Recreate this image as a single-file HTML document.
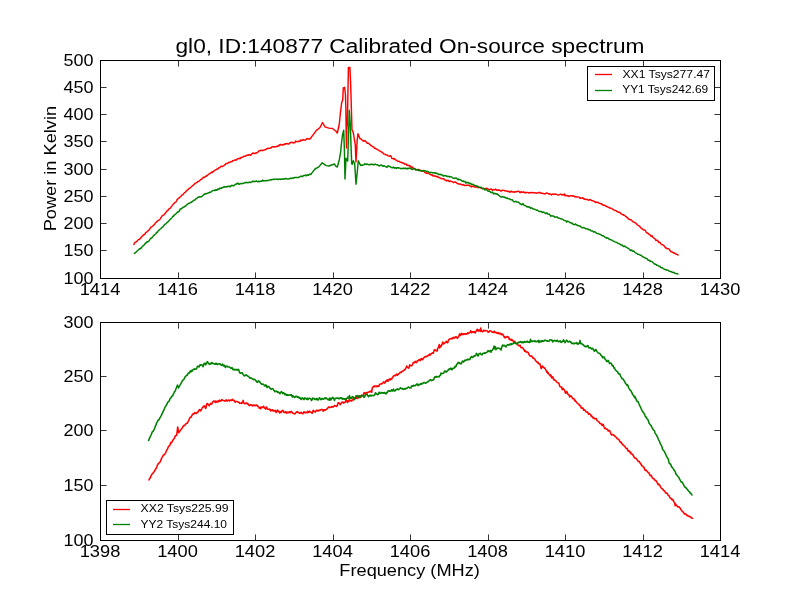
<!DOCTYPE html>
<html><head><meta charset="utf-8"><title>spectrum</title>
<style>html,body{margin:0;padding:0;background:#fff;width:800px;height:600px;overflow:hidden}svg{display:block;will-change:transform}</style>
</head><body><svg width="800" height="600" viewBox="0 0 800 600"><rect x="0" y="0" width="800" height="600" fill="#fff"/><clipPath id="c1"><rect x="100" y="60" width="620" height="218.18"/></clipPath><clipPath id="c2"><rect x="100" y="321.82" width="620" height="218.18"/></clipPath><g clip-path="url(#c1)" fill="none" stroke-width="1.45" stroke-linejoin="round" stroke-linecap="butt"><polyline stroke="#ff0000" points="133.5,245.0 134.0,244.3 134.5,243.1 135.0,242.5 135.5,242.2 136.0,242.0 136.5,241.6 137.0,241.3 137.5,240.5 138.0,240.0 138.5,239.7 139.0,239.5 139.5,239.4 140.0,238.8 140.5,238.4 141.0,237.4 141.5,237.0 142.0,236.3 142.5,236.3 143.0,235.2 143.5,235.0 144.0,234.7 144.5,234.6 145.0,234.1 145.5,232.9 146.0,232.5 146.5,232.2 147.0,231.9 147.5,231.0 148.0,230.9 148.5,230.5 149.0,230.1 149.5,229.3 150.0,228.7 150.5,227.8 151.0,227.2 151.5,226.9 152.0,226.7 152.5,226.1 153.0,225.8 153.5,225.2 154.0,225.0 154.5,224.5 155.0,223.5 155.5,223.0 156.0,222.4 156.5,222.1 157.0,221.6 157.5,221.0 158.0,220.5 158.5,220.5 159.0,220.2 159.5,219.9 160.0,219.2 160.5,218.4 161.0,217.5 161.5,216.8 162.0,216.0 162.5,215.6 163.0,215.2 163.5,215.1 164.0,214.9 164.5,214.0 165.0,213.6 165.5,212.7 166.0,212.2 166.5,211.8 167.0,211.0 167.5,210.4 168.0,210.3 168.5,209.5 169.0,208.8 169.5,208.5 170.0,208.4 170.5,207.9 171.0,207.0 171.5,206.6 172.0,205.8 172.5,204.8 173.0,204.6 173.5,203.9 174.0,203.5 174.5,202.8 175.0,202.3 175.5,202.1 176.0,201.8 176.5,201.1 177.0,199.8 177.5,199.3 178.0,198.7 178.5,198.2 179.0,198.1 179.5,197.4 180.0,197.2 180.5,196.6 181.0,196.4 181.5,195.7 182.0,195.0 182.5,195.0 183.0,194.7 183.5,193.9 184.0,193.3 184.5,192.6 185.0,192.4 185.5,192.1 186.0,191.2 186.5,190.7 187.0,190.6 187.5,189.9 188.0,189.6 188.5,188.8 189.0,188.4 189.5,188.4 190.0,188.0 190.5,187.3 191.0,187.1 191.5,186.7 192.0,186.2 192.5,185.7 193.0,185.4 193.5,185.1 194.0,184.6 194.5,184.0 195.0,183.4 195.5,183.1 196.0,183.1 196.5,182.6 197.0,182.4 197.5,181.9 198.0,181.5 198.5,181.3 199.0,181.0 199.5,181.0 200.0,180.4 200.5,179.6 201.0,179.4 201.5,179.3 202.0,178.6 202.5,178.5 203.0,177.5 203.5,177.2 204.0,177.5 204.5,177.3 205.0,176.8 205.5,176.6 206.0,175.9 206.5,176.2 207.0,175.4 207.5,175.3 208.0,174.8 208.5,174.5 209.0,174.2 209.5,173.5 210.0,173.5 210.5,173.1 211.0,172.7 211.5,172.3 212.0,171.9 212.5,172.4 213.0,171.8 213.5,171.2 214.0,171.0 214.5,170.5 215.0,170.2 215.5,170.1 216.0,169.7 216.5,169.3 217.0,169.2 217.5,168.7 218.0,168.8 218.5,168.1 219.0,167.7 219.5,167.5 220.0,167.5 220.5,166.9 221.0,166.2 221.5,166.2 222.0,166.3 222.5,166.5 223.0,166.2 223.5,165.9 224.0,165.6 224.5,165.0 225.0,164.6 225.5,164.2 226.0,163.5 226.5,163.5 227.0,163.7 227.5,163.5 228.0,163.1 228.5,162.6 229.0,162.3 229.5,162.5 230.0,162.2 230.5,161.9 231.0,161.6 231.5,161.8 232.0,161.6 232.5,160.8 233.0,160.8 233.5,160.5 234.0,160.3 234.5,160.1 235.0,159.9 235.5,160.0 236.0,160.4 236.5,159.4 237.0,159.3 237.5,159.1 238.0,158.6 238.5,158.5 239.0,158.7 239.5,158.3 240.0,158.8 240.5,158.2 241.0,157.5 241.5,157.5 242.0,157.3 242.5,157.2 243.0,156.9 243.5,156.5 244.0,156.1 244.5,156.1 245.0,156.4 245.5,156.3 246.0,155.6 246.5,155.2 247.0,155.2 247.5,155.4 248.0,155.0 248.5,155.2 249.0,154.7 249.5,154.6 250.0,154.7 250.5,155.2 251.0,155.0 251.5,154.0 252.0,153.7 252.5,153.5 253.0,152.8 253.5,153.4 254.0,153.4 254.5,153.7 255.0,153.4 255.5,153.1 256.0,152.8 256.5,153.1 257.0,152.7 257.5,152.3 258.0,152.1 258.5,151.2 259.0,150.9 259.5,150.9 260.0,150.8 260.5,150.5 261.0,150.2 261.5,150.3 262.0,150.4 262.5,150.7 263.0,150.3 263.5,150.2 264.0,150.1 264.5,149.7 265.0,149.7 265.5,149.7 266.0,149.5 266.5,148.8 267.0,148.7 267.5,148.4 268.0,148.3 268.5,148.4 269.0,148.4 269.5,148.2 270.0,148.2 270.5,147.8 271.0,148.0 271.5,147.3 272.0,147.0 272.5,146.7 273.0,146.8 273.5,146.8 274.0,147.1 274.5,146.8 275.0,146.6 275.5,146.8 276.0,146.9 276.5,146.5 277.0,146.4 277.5,145.9 278.0,146.2 278.5,146.1 279.0,145.3 279.5,144.7 280.0,145.2 280.5,144.7 281.0,144.3 281.5,144.7 282.0,145.0 282.5,145.2 283.0,144.8 283.5,144.7 284.0,144.1 284.5,144.0 285.0,144.5 285.5,143.7 286.0,143.7 286.5,143.5 287.0,143.9 287.5,143.7 288.0,144.1 288.5,143.9 289.0,143.9 289.5,143.1 290.0,143.2 290.5,142.4 291.0,142.4 291.5,142.4 292.0,142.3 292.5,142.4 293.0,143.0 293.5,142.8 294.0,142.9 294.5,142.6 295.0,142.5 295.5,141.1 296.0,141.4 296.5,141.4 297.0,141.4 297.5,141.6 298.0,141.7 298.5,141.5 299.0,141.1 299.5,141.4 300.0,141.4 300.5,140.7 301.0,139.8 301.5,140.4 302.0,140.6 302.5,140.3 303.0,139.8 303.5,139.6 304.0,140.0 304.5,140.0 305.0,140.3 305.5,139.9 306.0,139.6 306.5,138.9 307.0,138.5 307.5,138.6 308.0,138.9 308.5,139.0 309.0,138.8 309.5,139.1 310.0,139.0 312.5,135.6 316.2,130.6 320.0,127.5 322.5,122.5 325.0,126.9 328.8,128.1 332.5,128.5 336.0,131.3 337.3,133.0 339.3,124.0 340.5,112.0 341.7,102.7 342.7,100.0 343.3,88.0 344.6,87.3 345.5,95.0 345.9,110.0 346.2,135.0 346.5,148.0 346.9,128.0 347.3,125.0 347.8,100.0 348.4,67.5 349.9,67.5 350.7,85.0 351.7,120.0 352.0,129.7 353.0,131.7 353.7,135.0 355.3,145.0 356.0,162.0 357.2,140.0 358.0,133.7 360.0,138.7 360.5,138.7 361.0,138.9 361.5,139.4 362.0,140.0 362.5,140.6 363.0,140.7 363.5,141.2 364.0,140.9 364.5,141.1 365.0,140.4 365.5,141.5 366.0,141.6 366.5,142.2 367.0,143.1 367.5,143.2 368.0,143.2 368.5,143.2 369.0,143.6 369.5,144.4 370.0,144.5 370.5,145.2 371.0,145.7 371.5,145.9 372.0,146.1 372.5,146.6 373.0,146.9 373.5,146.9 374.0,147.3 374.5,148.2 375.0,148.3 375.5,148.5 376.0,148.7 376.5,149.2 377.0,149.4 377.5,149.8 378.0,149.9 378.5,150.1 379.0,150.4 379.5,150.9 380.0,151.0 380.5,151.4 381.0,151.7 381.5,152.1 382.0,152.1 382.5,152.5 383.0,153.1 383.5,153.7 384.0,154.1 384.5,154.1 385.0,154.3 385.5,154.3 386.0,155.0 386.5,155.0 387.0,154.9 387.5,155.3 388.0,155.9 388.5,156.1 389.0,156.1 389.5,156.2 390.0,155.8 390.5,155.7 391.0,156.4 391.5,157.5 392.0,158.6 392.5,158.6 393.0,158.5 393.5,159.0 394.0,159.1 394.5,158.6 395.0,159.4 395.5,159.9 396.0,160.1 396.5,160.2 397.0,160.7 397.5,161.1 398.0,161.4 398.5,161.3 399.0,161.3 399.5,161.5 400.0,162.1 400.5,162.3 401.0,162.4 401.5,162.3 402.0,162.9 402.5,162.7 403.0,163.1 403.5,163.2 404.0,163.3 404.5,164.2 405.0,164.0 405.5,164.2 406.0,164.1 406.5,164.6 407.0,165.4 407.5,165.1 408.0,165.3 408.5,165.6 409.0,165.4 409.5,165.6 410.0,166.7 410.5,166.0 411.0,167.2 411.5,167.4 412.0,167.4 412.5,167.0 413.0,168.5 413.5,168.4 414.0,168.3 414.5,168.9 415.0,168.9 415.5,168.9 416.0,169.7 416.5,169.8 417.0,169.7 417.5,170.1 418.0,169.7 418.5,169.4 419.0,169.7 419.5,169.9 420.0,170.0 420.5,170.5 421.0,170.9 421.5,171.0 422.0,171.3 422.5,171.3 423.0,171.1 423.5,171.0 424.0,171.1 424.5,171.8 425.0,172.6 425.5,172.7 426.0,172.7 426.5,173.3 427.0,173.4 427.5,173.0 428.0,172.8 428.5,173.0 429.0,173.7 429.5,174.2 430.0,174.4 430.5,174.5 431.0,174.9 431.5,174.9 432.0,174.4 432.5,175.8 433.0,175.9 433.5,175.9 434.0,175.5 434.5,176.0 435.0,176.1 435.5,176.3 436.0,176.3 436.5,176.8 437.0,176.3 437.5,176.8 438.0,177.1 438.5,176.9 439.0,177.4 439.5,177.9 440.0,178.0 440.5,178.2 441.0,178.5 441.5,178.7 442.0,178.7 442.5,178.7 443.0,178.8 443.5,178.7 444.0,178.9 444.5,179.8 445.0,179.9 445.5,180.2 446.0,180.3 446.5,180.9 447.0,180.5 447.5,180.7 448.0,180.3 448.5,180.6 449.0,181.3 449.5,181.6 450.0,181.2 450.5,181.0 451.0,181.4 451.5,181.6 452.0,181.6 452.5,181.8 453.0,182.2 453.5,182.6 454.0,182.3 454.5,182.1 455.0,181.8 455.5,182.4 456.0,182.5 456.5,182.7 457.0,183.3 457.5,183.6 458.0,183.7 458.5,183.7 459.0,184.1 459.5,184.3 460.0,183.9 460.5,184.0 461.0,184.3 461.5,184.8 462.0,184.6 462.5,185.1 463.0,184.9 463.5,184.5 464.0,185.2 464.5,185.5 465.0,185.3 465.5,185.5 466.0,185.5 466.5,185.2 467.0,185.5 467.5,185.2 468.0,185.3 468.5,185.0 469.0,185.3 469.5,185.8 470.0,185.8 470.5,186.4 471.0,186.6 471.5,187.0 472.0,186.5 472.5,186.1 473.0,186.0 473.5,186.6 474.0,186.7 474.5,187.0 475.0,186.9 475.5,186.8 476.0,187.1 476.5,187.0 477.0,187.2 477.5,187.6 478.0,187.5 478.5,187.0 479.0,187.5 479.5,187.4 480.0,187.6 480.5,187.9 481.0,187.9 481.5,187.9 482.0,188.5 482.5,188.4 483.0,188.5 483.5,188.3 484.0,188.4 484.5,188.9 485.0,189.1 485.5,188.5 486.0,188.7 486.5,188.4 487.0,188.3 487.5,188.8 488.0,189.0 488.5,189.2 489.0,189.7 489.5,189.8 490.0,189.6 490.5,189.2 491.0,188.9 491.5,189.2 492.0,189.7 492.5,190.3 493.0,189.9 493.5,189.6 494.0,189.5 494.5,189.9 495.0,189.7 495.5,189.1 496.0,189.5 496.5,190.2 497.0,190.3 497.5,190.2 498.0,190.1 498.5,189.7 499.0,190.2 499.5,190.1 500.0,190.4 500.5,191.0 501.0,190.7 501.5,191.0 502.0,190.4 502.5,190.2 503.0,190.3 503.5,190.4 504.0,190.5 504.5,190.8 505.0,190.5 505.5,190.6 506.0,190.9 506.5,191.2 507.0,191.2 507.5,191.2 508.0,191.7 508.5,191.4 509.0,191.2 509.5,191.6 510.0,192.3 510.5,191.7 511.0,191.6 511.5,191.0 512.0,191.8 512.5,191.9 513.0,191.9 513.5,191.8 514.0,192.3 514.5,192.3 515.0,191.7 515.5,191.7 516.0,191.5 516.5,191.8 517.0,191.7 517.5,191.3 518.0,191.1 518.5,191.2 519.0,191.5 519.5,192.2 520.0,192.6 520.5,192.6 521.0,191.6 521.5,191.8 522.0,192.1 522.5,192.2 523.0,192.3 523.5,191.8 524.0,192.1 524.5,192.4 525.0,193.0 525.5,192.6 526.0,192.3 526.5,192.5 527.0,192.5 527.5,192.6 528.0,192.5 528.5,192.9 529.0,192.7 529.5,193.0 530.0,192.5 530.5,192.5 531.0,192.9 531.5,192.7 532.0,192.7 532.5,192.5 533.0,192.7 533.5,192.8 534.0,192.8 534.5,192.7 535.0,192.8 535.5,193.0 536.0,193.0 536.5,193.2 537.0,193.0 537.5,193.0 538.0,192.8 538.5,192.7 539.0,192.5 539.5,192.7 540.0,192.4 540.5,192.9 541.0,193.3 541.5,193.2 542.0,193.2 542.5,193.3 543.0,193.6 543.5,193.5 544.0,193.8 544.5,193.8 545.0,194.0 545.5,193.6 546.0,193.1 546.5,193.0 547.0,193.2 547.5,193.3 548.0,193.4 548.5,194.0 549.0,193.7 549.5,193.8 550.0,194.0 550.5,193.9 551.0,194.7 551.5,195.0 552.0,194.5 552.5,194.0 553.0,194.3 553.5,194.3 554.0,194.0 554.5,194.0 555.0,194.3 555.5,194.1 556.0,194.1 556.5,194.4 557.0,194.5 557.5,194.9 558.0,195.1 558.5,195.0 559.0,194.8 559.5,194.6 560.0,194.5 560.5,194.2 561.0,194.3 561.5,194.7 562.0,194.5 562.5,195.0 563.0,194.7 563.5,194.6 564.0,195.1 564.5,193.9 565.0,195.7 565.5,195.7 566.0,195.5 566.5,195.4 567.0,195.8 567.5,195.6 568.0,196.0 568.5,195.8 569.0,196.5 569.5,196.1 570.0,195.9 570.5,195.8 571.0,195.8 571.5,195.8 572.0,195.7 572.5,196.2 573.0,196.0 573.5,195.8 574.0,195.9 574.5,196.6 575.0,197.1 575.5,196.6 576.0,196.7 576.5,197.0 577.0,196.8 577.5,197.0 578.0,197.1 578.5,197.1 579.0,197.1 579.5,197.6 580.0,198.2 580.5,198.2 581.0,197.7 581.5,198.1 582.0,198.0 582.5,197.8 583.0,197.9 583.5,198.9 584.0,198.4 584.5,199.1 585.0,199.4 585.5,199.3 586.0,199.4 586.5,199.4 587.0,199.4 587.5,199.5 588.0,199.9 588.5,200.2 589.0,200.2 589.5,199.5 590.0,199.4 590.5,199.9 591.0,200.2 591.5,200.2 592.0,200.7 592.5,200.8 593.0,201.0 593.5,201.0 594.0,201.2 594.5,201.5 595.0,202.2 595.5,202.4 596.0,201.9 596.5,202.4 597.0,202.3 597.5,202.4 598.0,202.2 598.5,202.9 599.0,203.1 599.5,203.2 600.0,203.4 600.5,203.6 601.0,203.9 601.5,203.7 602.0,204.4 602.5,204.9 603.0,204.8 603.5,205.3 604.0,205.4 604.5,205.2 605.0,205.5 605.5,205.9 606.0,206.3 606.5,206.2 607.0,206.8 607.5,206.7 608.0,207.0 608.5,207.4 609.0,207.5 609.5,208.1 610.0,208.0 610.5,208.2 611.0,208.1 611.5,208.4 612.0,208.8 612.5,209.2 613.0,209.5 613.5,209.7 614.0,209.9 614.5,210.4 615.0,210.5 615.5,210.5 616.0,210.7 616.5,211.0 617.0,211.7 617.5,211.7 618.0,212.0 618.5,212.3 619.0,212.1 619.5,212.3 620.0,212.5 620.5,213.1 621.0,213.8 621.5,214.0 622.0,214.2 622.5,214.5 623.0,214.9 623.5,214.7 624.0,215.3 624.5,215.4 625.0,215.7 625.5,216.2 626.0,216.7 626.5,216.9 627.0,217.7 627.5,217.8 628.0,218.3 628.5,219.0 629.0,219.3 629.5,219.2 630.0,219.9 630.5,219.8 631.0,219.9 631.5,220.0 632.0,220.9 632.5,221.2 633.0,221.7 633.5,222.1 634.0,222.2 634.5,222.6 635.0,222.5 635.5,223.1 636.0,223.3 636.5,223.9 637.0,224.6 637.5,225.0 638.0,225.3 638.5,225.7 639.0,225.7 639.5,226.1 640.0,226.7 640.5,227.6 641.0,228.0 641.5,228.5 642.0,228.7 642.5,228.9 643.0,229.7 643.5,229.9 644.0,230.2 644.5,230.0 645.0,230.1 645.5,230.7 646.0,231.8 646.5,232.6 647.0,233.1 647.5,232.8 648.0,233.3 648.5,233.8 649.0,234.4 649.5,234.7 650.0,234.8 650.5,235.3 651.0,236.2 651.5,236.6 652.0,235.7 652.5,236.6 653.0,237.3 653.5,237.7 654.0,238.1 654.5,238.6 655.0,238.9 655.5,239.5 656.0,240.6 656.5,240.2 657.0,240.3 657.5,240.3 658.0,241.1 658.5,242.1 659.0,242.5 659.5,242.2 660.0,242.4 660.5,243.4 661.0,244.0 661.5,244.4 662.0,244.7 662.5,244.6 663.0,245.0 663.5,245.1 664.0,245.7 664.5,246.3 665.0,247.1 665.5,247.9 666.0,247.7 666.5,248.2 667.0,248.6 667.5,248.7 668.0,248.8 668.5,248.8 669.0,249.1 669.5,249.6 670.0,250.5 670.5,251.2 671.0,251.7 671.5,251.7 672.0,251.9 672.5,252.2 673.0,252.6 673.5,252.7 674.0,253.2 674.5,253.0 675.0,253.6 675.5,254.0 676.0,253.9 676.5,254.2 677.0,254.4 677.5,254.5 678.0,255.1 678.5,255.5"/><polyline stroke="#008000" points="133.8,253.2 134.2,253.2 134.8,253.2 135.2,252.9 135.8,252.4 136.2,252.0 136.8,251.5 137.2,250.9 137.8,250.5 138.2,250.1 138.8,249.5 139.2,249.0 139.8,249.1 140.2,248.4 140.8,248.6 141.2,248.0 141.8,247.3 142.2,246.5 142.8,246.2 143.2,245.5 143.8,245.5 144.2,244.8 144.8,244.3 145.2,243.2 145.8,243.3 146.2,242.6 146.8,242.2 147.2,241.6 147.8,241.9 148.2,241.6 148.8,241.1 149.2,240.6 149.8,239.8 150.2,239.0 150.8,238.2 151.2,238.2 151.8,238.0 152.2,237.6 152.8,236.7 153.2,236.0 153.8,235.4 154.2,235.2 154.8,234.6 155.2,234.1 155.8,233.9 156.2,232.9 156.8,232.2 157.2,232.5 157.8,231.8 158.2,230.9 158.8,230.1 159.2,230.0 159.8,229.4 160.2,229.2 160.8,228.7 161.2,228.2 161.8,227.5 162.2,227.2 162.8,227.0 163.2,226.3 163.8,225.4 164.2,225.2 164.8,224.5 165.2,224.1 165.8,223.8 166.2,223.4 166.8,222.8 167.2,222.4 167.8,222.1 168.2,221.4 168.8,221.1 169.2,220.2 169.8,219.7 170.2,219.5 170.8,218.8 171.2,218.6 171.8,217.9 172.2,217.3 172.8,216.3 173.2,216.4 173.8,215.9 174.2,215.1 174.8,214.6 175.2,214.5 175.8,214.0 176.2,213.5 176.8,212.8 177.2,212.3 177.8,211.9 178.2,211.9 178.8,211.3 179.2,211.3 179.8,210.2 180.2,208.9 180.8,208.9 181.2,208.6 181.8,208.7 182.2,207.9 182.8,207.6 183.2,207.1 183.8,207.2 184.2,206.9 184.8,206.3 185.2,206.3 185.8,205.9 186.2,205.1 186.8,205.0 187.2,204.2 187.8,204.0 188.2,203.6 188.8,203.3 189.2,203.4 189.8,203.2 190.2,202.6 190.8,202.4 191.2,202.1 191.8,202.2 192.2,201.4 192.8,201.3 193.2,200.8 193.8,200.3 194.2,200.2 194.8,200.1 195.2,199.5 195.8,198.9 196.2,198.4 196.8,198.4 197.2,198.0 197.8,197.5 198.2,197.2 198.8,197.0 199.2,197.0 199.8,196.7 200.2,197.1 200.8,196.7 201.2,196.7 201.8,196.5 202.2,196.1 202.8,195.7 203.2,195.1 203.8,194.4 204.2,194.0 204.8,194.6 205.2,193.9 205.8,193.5 206.2,193.6 206.8,193.7 207.2,193.4 207.8,193.2 208.2,192.8 208.8,192.8 209.2,192.5 209.8,192.1 210.2,192.5 210.8,191.9 211.2,191.8 211.8,191.4 212.2,190.9 212.8,190.6 213.2,190.4 213.8,190.5 214.2,190.5 214.8,190.2 215.2,189.9 215.8,190.4 216.2,189.8 216.8,190.3 217.2,189.7 217.8,188.9 218.2,189.1 218.8,189.5 219.2,188.6 219.8,188.2 220.2,188.4 220.8,188.0 221.2,188.4 221.8,187.9 222.2,187.6 222.8,187.4 223.2,187.4 223.8,186.8 224.2,187.0 224.8,186.5 225.2,187.1 225.8,186.8 226.2,186.6 226.8,186.7 227.2,187.0 227.8,186.1 228.2,186.1 228.8,186.5 229.2,186.3 229.8,186.2 230.2,186.8 230.8,186.4 231.2,185.7 231.8,185.3 232.2,185.6 232.8,185.5 233.2,185.8 233.8,185.8 234.2,185.2 234.8,185.0 235.2,184.3 235.8,184.3 236.2,184.0 236.8,184.1 237.2,183.3 237.8,183.6 238.2,183.3 238.8,184.1 239.2,184.3 239.8,184.0 240.2,183.5 240.8,183.6 241.2,183.5 241.8,183.7 242.2,183.7 242.8,183.3 243.2,183.3 243.8,183.1 244.2,183.0 244.8,182.6 245.2,182.7 245.8,182.7 246.2,182.3 246.8,182.5 247.2,182.6 247.8,182.8 248.2,182.6 248.8,182.6 249.2,182.0 249.8,182.4 250.2,182.5 250.8,182.6 251.2,182.0 251.8,181.9 252.2,181.5 252.8,181.2 253.2,181.3 253.8,181.7 254.2,181.4 254.8,181.7 255.2,181.5 255.8,181.3 256.2,180.9 256.8,181.2 257.2,181.6 257.8,181.8 258.2,181.2 258.8,181.2 259.2,181.8 259.8,181.3 260.2,181.3 260.8,181.5 261.2,181.3 261.8,181.0 262.2,180.4 262.8,180.1 263.2,181.1 263.8,180.9 264.2,180.6 264.8,180.6 265.2,180.8 265.8,180.9 266.2,180.5 266.8,180.6 267.2,180.4 267.8,180.4 268.2,180.7 268.8,180.4 269.2,180.1 269.8,179.9 270.2,179.6 270.8,179.6 271.2,180.0 271.8,179.7 272.2,179.4 272.8,179.4 273.2,179.6 273.8,179.1 274.2,179.4 274.8,179.5 275.2,179.1 275.8,179.1 276.2,179.0 276.8,179.4 277.2,179.3 277.8,179.1 278.2,179.6 278.8,179.3 279.2,178.9 279.8,179.0 280.2,179.1 280.8,179.5 281.2,179.1 281.8,179.3 282.2,179.0 282.8,179.0 283.2,178.9 283.8,179.2 284.2,178.8 284.8,178.9 285.2,178.5 285.8,178.4 286.2,178.9 286.8,178.8 287.2,178.9 287.8,178.9 288.2,179.1 288.8,178.9 289.2,178.9 289.8,178.5 290.2,178.4 290.8,178.1 291.2,178.5 291.8,178.5 292.2,178.0 292.8,178.0 293.2,178.0 293.8,178.0 294.2,177.5 294.8,177.7 295.2,177.5 295.8,177.5 296.2,177.5 296.8,177.4 297.2,177.6 297.8,177.5 298.2,177.5 298.8,177.5 299.2,177.0 299.8,176.9 300.2,176.4 300.8,176.2 301.2,176.3 301.8,176.3 302.2,176.7 302.8,176.1 303.2,175.8 303.8,175.7 304.2,175.5 304.8,175.6 305.2,175.3 305.8,175.0 306.2,175.7 306.8,175.5 307.2,174.7 307.8,174.9 308.2,175.2 308.8,175.3 309.2,174.5 309.8,174.3 310.2,173.9 310.8,174.6 311.2,173.9 315.0,169.0 318.8,166.9 322.2,162.8 326.2,165.6 328.8,166.0 334.4,164.0 336.0,166.3 337.3,167.0 339.3,159.7 340.7,151.7 341.3,145.0 342.5,135.0 343.7,130.3 344.4,150.0 345.0,179.0 346.0,158.3 347.7,161.0 349.3,110.3 350.3,125.0 351.0,145.0 351.7,163.7 352.3,164.3 353.3,160.7 354.7,163.7 356.0,184.3 357.3,171.7 358.3,160.7 360.7,165.6 361.2,165.1 361.7,165.3 362.2,165.0 362.7,165.3 363.2,165.0 363.7,164.9 364.2,164.4 364.7,163.7 365.2,164.0 365.7,164.4 366.2,164.5 366.7,164.1 367.2,164.3 367.7,164.1 368.2,164.3 368.7,164.7 369.2,164.8 369.7,164.5 370.2,164.8 370.7,164.2 371.2,164.3 371.7,164.2 372.2,164.6 372.7,164.3 373.2,164.6 373.7,164.9 374.2,164.6 374.7,164.1 375.2,164.1 375.7,164.5 376.2,164.8 376.7,164.9 377.2,164.8 377.7,164.8 378.2,165.4 378.7,165.6 379.2,166.0 379.7,165.4 380.2,165.4 380.7,165.3 381.2,164.9 381.7,165.2 382.2,165.6 382.7,166.2 383.2,166.3 383.7,165.8 384.2,165.8 384.7,165.9 385.2,166.5 385.7,166.7 386.2,167.0 386.7,167.3 387.2,167.1 387.7,166.0 388.2,166.0 388.7,165.8 389.2,166.5 389.7,166.4 390.2,166.6 390.7,167.0 391.2,167.5 391.7,167.5 392.2,167.8 392.7,167.5 393.2,167.1 393.7,167.5 394.2,168.2 394.7,167.7 395.2,168.1 395.7,167.7 396.2,167.9 396.7,168.4 397.2,168.0 397.7,167.6 398.2,167.6 398.7,168.1 399.2,168.1 399.7,167.9 400.2,168.4 400.7,168.4 401.2,168.7 401.7,168.5 402.2,168.3 402.7,168.5 403.2,168.5 403.7,168.6 404.2,168.1 404.7,168.6 405.2,168.3 405.7,168.2 406.2,168.6 406.7,168.5 407.2,168.9 407.7,168.2 408.2,168.7 408.7,168.5 409.2,168.1 409.7,168.4 410.2,168.4 410.7,168.2 411.2,168.7 411.7,169.3 412.2,169.6 412.7,169.4 413.2,169.2 413.7,168.5 414.2,168.6 414.7,168.6 415.2,169.3 415.7,170.1 416.2,170.1 416.7,169.6 417.2,169.5 417.7,169.8 418.2,169.8 418.7,170.8 419.2,170.7 419.7,170.4 420.2,170.6 420.7,170.7 421.2,170.6 421.7,170.8 422.2,170.8 422.7,171.1 423.2,170.5 423.7,170.7 424.2,170.5 424.7,170.9 425.2,170.9 425.7,170.9 426.2,171.3 426.7,171.4 427.2,171.3 427.7,171.5 428.2,171.7 428.7,171.9 429.2,172.7 429.7,172.8 430.2,172.7 430.7,172.3 431.2,172.6 431.7,172.5 432.2,172.7 432.7,172.9 433.2,172.7 433.7,172.7 434.2,172.8 434.7,173.0 435.2,173.4 435.7,172.8 436.2,173.3 436.7,173.4 437.2,173.8 437.7,173.6 438.2,174.1 438.7,174.5 439.2,174.7 439.7,174.4 440.2,174.2 440.7,174.8 441.2,174.8 441.7,174.5 442.2,175.1 442.7,175.7 443.2,176.0 443.7,176.0 444.2,175.4 444.7,175.7 445.2,175.8 445.7,175.5 446.2,175.8 446.7,176.2 447.2,176.6 447.7,176.3 448.2,176.4 448.7,176.4 449.2,176.3 449.7,177.0 450.2,176.9 450.7,176.7 451.2,177.0 451.7,177.0 452.2,177.5 452.7,177.8 453.2,178.2 453.7,178.2 454.2,178.3 454.7,178.2 455.2,178.2 455.7,177.9 456.2,178.0 456.7,178.3 457.2,179.0 457.7,179.6 458.2,179.8 458.7,178.9 459.2,179.3 459.7,179.6 460.2,179.9 460.7,180.0 461.2,180.2 461.7,180.9 462.2,181.2 462.7,181.3 463.2,180.8 463.7,181.5 464.2,181.6 464.7,181.4 465.2,181.5 465.7,183.0 466.2,182.8 466.7,182.3 467.2,182.8 467.7,182.7 468.2,182.4 468.7,182.5 469.2,183.7 469.7,183.6 470.2,183.3 470.7,183.4 471.2,184.0 471.7,184.8 472.2,184.5 472.7,184.4 473.2,184.2 473.7,184.9 474.2,185.3 474.7,185.4 475.2,185.4 475.7,185.6 476.2,185.9 476.7,186.2 477.2,186.0 477.7,186.3 478.2,186.7 478.7,187.1 479.2,187.1 479.7,187.1 480.2,187.5 480.7,187.2 481.2,187.2 481.7,187.9 482.2,188.3 482.7,188.7 483.2,188.5 483.7,188.6 484.2,189.1 484.7,190.0 485.2,189.4 485.7,189.6 486.2,189.8 486.7,189.9 487.2,190.2 487.7,190.9 488.2,191.3 488.7,191.2 489.2,191.4 489.7,191.3 490.2,191.6 490.7,192.2 491.2,192.8 491.7,192.3 492.2,192.0 492.7,192.3 493.2,193.4 493.7,193.9 494.2,193.5 494.7,193.2 495.2,193.7 495.7,193.9 496.2,194.2 496.7,193.9 497.2,193.8 497.7,194.5 498.2,194.7 498.7,195.4 499.2,195.6 499.7,195.8 500.2,196.6 500.7,196.8 501.2,197.0 501.7,196.8 502.2,197.0 502.7,196.7 503.2,196.9 503.7,197.2 504.2,197.0 504.7,197.4 505.2,197.2 505.7,197.7 506.2,198.2 506.7,198.2 507.2,197.9 507.7,198.5 508.2,198.7 508.7,198.6 509.2,198.8 509.7,198.9 510.2,199.4 510.7,199.8 511.2,199.8 511.7,199.7 512.2,199.7 512.7,200.5 513.2,201.2 513.7,201.5 514.2,202.0 514.7,201.9 515.2,201.7 515.7,201.3 516.2,201.4 516.7,201.7 517.2,202.1 517.7,202.3 518.2,202.1 518.7,202.6 519.2,203.0 519.7,203.2 520.2,204.0 520.7,203.9 521.2,204.3 521.7,204.8 522.2,204.5 522.7,203.7 523.2,203.7 523.7,205.0 524.2,205.2 524.7,205.6 525.2,205.6 525.7,205.9 526.2,206.2 526.7,206.5 527.2,207.1 527.7,206.9 528.2,207.2 528.7,206.9 529.2,206.8 529.7,207.0 530.2,208.0 530.7,208.3 531.2,207.9 531.7,207.8 532.2,208.2 532.7,208.7 533.2,208.8 533.7,209.0 534.2,209.1 534.7,209.3 535.2,209.5 535.7,209.6 536.2,210.0 536.7,210.3 537.2,210.1 537.7,210.4 538.2,210.8 538.7,211.2 539.2,211.3 539.7,211.5 540.2,211.5 540.7,211.5 541.2,211.5 541.7,211.9 542.2,212.6 542.7,212.1 543.2,212.2 543.7,212.0 544.2,212.3 544.7,212.9 545.2,213.0 545.7,213.7 546.2,213.5 546.7,212.8 547.2,213.1 547.7,214.0 548.2,214.2 548.7,214.3 549.2,214.0 549.7,214.5 550.2,215.3 550.7,216.3 551.2,215.8 551.7,215.9 552.2,215.9 552.7,216.0 553.2,215.8 553.7,216.1 554.2,216.7 554.7,217.2 555.2,216.9 555.7,216.9 556.2,217.0 556.7,217.2 557.2,217.0 557.7,217.4 558.2,218.1 558.7,218.2 559.2,218.1 559.7,218.4 560.2,218.6 560.7,218.9 561.2,219.0 561.7,218.9 562.2,219.3 562.7,219.3 563.2,219.9 563.7,220.1 564.2,220.3 564.7,220.5 565.2,220.6 565.7,220.8 566.2,221.1 566.7,222.2 567.2,221.5 567.7,221.0 568.2,221.4 568.7,221.6 569.2,222.1 569.7,222.5 570.2,222.8 570.7,222.7 571.2,222.7 571.7,223.4 572.2,223.2 572.7,224.0 573.2,224.0 573.7,224.4 574.2,224.7 574.7,224.7 575.2,223.9 575.7,224.1 576.2,224.9 576.7,224.8 577.2,225.3 577.7,225.5 578.2,225.8 578.7,225.6 579.2,226.0 579.7,226.0 580.2,225.9 580.7,226.7 581.2,227.4 581.7,227.5 582.2,227.9 582.7,227.7 583.2,227.5 583.7,227.5 584.2,228.1 584.7,228.0 585.2,228.3 585.7,228.8 586.2,228.9 586.7,228.8 587.2,229.0 587.7,228.8 588.2,229.2 588.7,229.7 589.2,229.5 589.7,230.0 590.2,229.8 590.7,230.6 591.2,230.9 591.7,231.1 592.2,230.9 592.7,230.9 593.2,231.7 593.7,232.1 594.2,231.7 594.7,231.8 595.2,232.0 595.7,232.6 596.2,232.8 596.7,233.4 597.2,233.5 597.7,233.5 598.2,233.5 598.7,233.8 599.2,234.1 599.7,234.2 600.2,234.3 600.7,234.6 601.2,235.1 601.7,235.4 602.2,235.8 602.7,235.6 603.2,235.6 603.7,236.1 604.2,236.5 604.7,237.1 605.2,237.3 605.7,237.5 606.2,237.4 606.7,238.3 607.2,237.9 607.7,237.9 608.2,238.3 608.7,238.5 609.2,239.5 609.7,239.5 610.2,239.4 610.7,239.6 611.2,239.8 611.7,240.2 612.2,240.4 612.7,240.8 613.2,241.0 613.7,241.1 614.2,241.6 614.7,241.8 615.2,242.0 615.7,242.1 616.2,242.1 616.7,242.6 617.2,242.6 617.7,243.2 618.2,243.5 618.7,243.5 619.2,243.8 619.7,244.0 620.2,244.1 620.7,245.0 621.2,244.9 621.7,245.0 622.2,245.0 622.7,245.6 623.2,246.4 623.7,246.6 624.2,246.2 624.7,246.0 625.2,246.5 625.7,247.0 626.2,247.1 626.7,247.3 627.2,247.9 627.7,248.1 628.2,248.4 628.7,248.5 629.2,249.1 629.7,249.8 630.2,250.3 630.7,250.5 631.2,250.0 631.7,249.9 632.2,251.0 632.7,251.1 633.2,251.3 633.7,250.9 634.2,251.4 634.7,252.0 635.2,252.5 635.7,252.9 636.2,253.1 636.7,253.3 637.2,253.7 637.7,254.2 638.2,254.1 638.7,254.3 639.2,254.7 639.7,254.9 640.2,255.2 640.7,255.3 641.2,255.3 641.7,255.8 642.2,256.5 642.7,256.8 643.2,256.8 643.7,257.1 644.2,257.3 644.7,257.6 645.2,258.1 645.7,258.4 646.2,258.5 646.7,258.3 647.2,259.1 647.7,259.6 648.2,260.3 648.7,260.2 649.2,260.2 649.7,260.5 650.2,261.3 650.7,261.1 651.2,261.4 651.7,261.6 652.2,261.8 652.7,262.3 653.2,262.8 653.7,263.3 654.2,263.7 654.7,264.2 655.2,263.9 655.7,264.4 656.2,264.5 656.7,265.3 657.2,265.3 657.7,265.4 658.2,265.8 658.7,265.9 659.2,266.5 659.7,266.3 660.2,266.8 660.7,267.4 661.2,267.7 661.7,267.7 662.2,267.7 662.7,268.0 663.2,268.5 663.7,268.8 664.2,269.2 664.7,269.3 665.2,269.4 665.7,269.8 666.2,269.7 666.7,270.2 667.2,270.0 667.7,270.1 668.2,270.3 668.7,270.7 669.2,271.3 669.7,271.3 670.2,271.4 670.7,271.7 671.2,271.6 671.7,272.1 672.2,272.2 672.7,272.5 673.2,272.5 673.7,272.2 674.2,272.8 674.7,273.0 675.2,273.4 675.7,273.5 676.2,273.6 676.7,273.6 677.2,273.8 677.7,273.8 678.2,274.1 678.5,274.0"/></g><g clip-path="url(#c2)" fill="none" stroke-width="1.55" stroke-linejoin="round" stroke-linecap="butt"><polyline stroke="#ff0000" points="148.4,480.0 148.9,480.0 149.4,479.1 149.9,478.2 150.4,477.5 150.9,476.3 151.4,475.1 151.9,474.4 152.4,473.6 152.9,473.5 153.4,472.5 153.9,472.1 154.4,471.4 154.9,470.2 155.4,469.5 155.9,468.7 156.4,468.0 156.9,466.7 157.4,465.0 157.9,464.4 158.4,463.5 158.9,463.2 159.4,462.7 159.9,462.3 160.4,461.2 160.9,460.2 161.4,458.7 161.9,457.6 162.4,456.8 162.9,455.9 163.4,455.1 163.9,455.0 164.4,454.7 164.9,453.8 165.4,453.1 165.9,452.3 166.4,450.8 166.9,449.7 167.4,449.6 167.9,447.8 168.4,446.9 168.9,446.0 169.4,445.7 169.9,445.3 170.4,443.7 170.9,442.4 171.4,442.9 171.9,442.3 172.4,441.0 172.9,440.0 173.4,439.8 173.9,438.9 174.4,438.2 174.9,436.7 175.4,435.8 175.9,435.7 176.4,435.0 176.7,435.2 177.7,427.0 178.7,432.7 181.7,428.6 182.2,428.2 182.7,427.2 183.2,426.2 183.7,425.6 184.2,425.7 184.7,425.6 185.2,424.5 185.7,424.3 186.2,423.4 186.7,423.3 187.2,423.3 187.7,422.3 188.2,421.3 188.7,420.6 189.2,419.2 189.7,418.0 190.2,417.3 190.7,417.5 191.2,417.0 191.7,415.9 192.2,415.0 192.7,414.0 193.2,414.3 193.7,413.8 194.2,413.6 194.7,412.5 195.2,413.3 195.7,413.4 196.2,413.5 196.7,413.0 197.2,412.3 197.7,412.6 198.2,411.5 198.7,410.9 199.2,409.8 199.7,409.6 200.2,409.7 200.7,410.9 201.2,410.1 201.7,409.0 202.2,407.7 202.7,407.5 203.2,406.6 203.7,406.2 204.2,405.9 204.7,406.4 205.2,407.6 205.7,408.5 206.2,406.8 206.7,404.1 207.2,403.5 207.7,403.7 208.2,404.5 208.7,404.9 209.2,405.8 209.7,404.9 210.2,404.2 210.7,403.4 211.2,403.8 211.7,404.1 212.2,403.0 212.7,402.1 213.2,401.3 213.7,401.0 214.2,401.4 214.7,401.8 215.2,401.0 215.7,402.4 216.2,401.5 216.7,401.3 217.2,402.1 217.7,401.3 218.2,401.0 218.7,401.7 219.2,400.2 219.7,400.3 220.2,400.7 220.7,401.2 221.2,400.7 221.7,399.6 222.2,400.3 222.7,400.0 223.2,400.4 223.7,400.6 224.2,401.0 224.7,401.1 225.2,400.6 225.7,400.3 226.2,399.8 226.7,401.0 227.2,401.1 227.7,400.5 228.2,400.4 228.7,400.0 229.2,400.2 229.7,401.0 230.2,400.5 230.7,400.0 231.2,400.2 231.7,400.4 232.2,399.3 232.7,399.9 233.2,400.4 233.7,400.6 234.2,400.4 234.7,401.3 235.2,402.2 235.7,401.7 236.2,401.4 236.7,401.4 237.2,401.5 237.7,401.9 238.2,402.0 238.7,402.2 239.2,402.5 239.7,403.4 240.2,403.3 240.7,403.3 241.2,403.0 241.7,403.5 242.2,402.1 242.7,402.1 243.2,400.4 243.7,403.2 244.2,403.2 244.7,403.7 245.2,403.8 245.7,403.3 246.2,402.8 246.7,403.1 247.2,403.9 247.7,403.6 248.2,404.1 248.7,405.1 249.2,405.3 249.7,405.6 250.2,405.0 250.7,404.8 251.2,405.2 251.7,405.0 252.2,405.9 252.7,405.2 253.2,405.7 253.7,404.9 254.2,404.9 254.7,405.6 255.2,405.6 255.7,405.6 256.2,404.9 256.7,405.1 257.2,405.9 257.7,405.7 258.2,406.6 258.7,407.0 259.2,408.2 259.7,407.9 260.2,407.4 260.7,408.7 261.2,407.1 261.7,407.5 262.2,407.4 262.7,406.9 263.2,406.6 263.7,406.2 264.2,408.1 264.7,408.2 265.2,408.4 265.7,409.2 266.2,407.1 266.7,407.2 267.2,408.3 267.7,409.3 268.2,409.2 268.7,409.4 269.2,409.6 269.7,409.1 270.2,409.7 270.7,410.9 271.2,410.2 271.7,410.5 272.2,409.7 272.7,410.8 273.2,410.2 273.7,411.0 274.2,411.1 274.7,410.9 275.2,410.3 275.7,411.7 276.2,412.5 276.7,411.8 277.2,410.6 277.7,410.0 278.2,411.0 278.7,411.3 279.2,412.1 279.7,413.0 280.2,411.6 280.7,411.8 281.2,412.4 281.7,411.2 282.2,410.7 282.7,410.4 283.2,410.8 283.7,412.2 284.2,412.5 284.7,412.3 285.2,412.6 285.7,411.6 286.2,412.4 286.7,413.1 287.2,412.1 287.7,412.4 288.2,412.7 288.7,412.3 289.2,411.8 289.7,412.0 290.2,412.8 290.7,411.6 291.2,411.3 291.7,411.8 292.2,412.3 292.7,413.2 293.2,413.6 293.7,413.7 294.2,413.6 294.7,413.7 295.2,413.7 295.7,413.0 296.2,412.2 296.7,412.2 297.2,411.6 297.7,412.2 298.2,412.5 298.7,412.3 299.2,413.2 299.7,413.2 300.2,413.3 300.7,412.8 301.2,412.3 301.7,413.0 302.2,413.6 302.7,413.7 303.2,413.0 303.7,412.0 304.2,411.7 304.7,412.4 305.2,412.9 305.7,412.5 306.2,412.6 306.7,412.3 307.2,412.7 307.7,411.4 308.2,412.4 308.7,412.4 309.2,411.1 309.7,411.6 310.2,411.7 310.7,412.2 311.2,412.3 311.7,412.7 312.2,413.3 312.7,412.0 313.2,410.3 313.7,411.4 314.2,411.2 314.7,411.4 315.2,412.2 315.7,411.4 316.2,410.9 316.7,410.2 317.2,410.1 317.7,410.8 318.2,411.0 318.7,411.0 319.2,410.0 319.7,410.2 320.2,410.3 320.7,409.8 321.2,409.6 321.7,409.4 322.2,409.5 322.7,409.7 323.2,411.2 323.7,410.0 324.2,410.4 324.7,409.9 325.2,410.2 325.7,409.8 326.2,409.5 326.7,409.2 327.2,408.9 327.7,407.9 328.2,407.5 328.7,406.9 329.2,407.1 329.7,407.6 330.2,407.2 330.7,407.2 331.2,407.3 331.7,406.5 332.2,406.5 332.7,407.0 333.2,407.1 333.7,406.3 334.2,406.3 334.7,405.5 335.2,405.7 335.7,405.9 336.2,406.2 336.7,406.5 337.2,405.8 337.7,404.0 338.2,402.8 338.7,402.6 339.2,403.4 339.7,403.4 340.2,404.7 340.7,404.0 341.2,403.4 341.7,402.6 342.2,402.0 342.7,402.0 343.2,402.5 343.7,403.1 344.2,402.3 344.7,402.4 345.2,402.3 345.7,401.5 346.2,399.0 346.7,401.5 347.2,400.7 347.7,402.5 348.2,401.1 348.7,401.1 349.2,399.8 349.7,400.7 350.2,400.3 350.7,400.3 351.2,401.0 351.7,401.1 352.2,400.2 352.7,400.1 353.2,398.6 353.7,399.2 354.2,398.3 354.7,399.0 355.2,398.7 355.7,398.1 356.2,398.2 356.7,396.9 357.2,398.1 357.7,398.5 358.2,396.9 358.7,397.2 359.2,396.3 359.7,395.7 360.2,397.0 360.7,397.5 361.2,396.2 361.7,395.1 362.2,395.7 362.7,395.4 363.2,395.8 363.7,394.3 364.2,392.5 364.7,393.7 365.2,393.0 365.7,393.5 366.2,393.0 366.7,392.6 367.2,393.0 367.7,392.3 368.2,392.3 368.7,392.0 369.2,392.0 369.7,391.4 370.2,391.2 370.7,391.7 371.2,390.8 371.7,392.3 372.2,388.0 372.7,387.6 373.2,386.6 373.7,386.3 374.2,385.9 374.7,386.7 375.2,386.5 375.7,386.2 376.2,385.9 376.7,386.6 377.2,386.6 377.7,385.8 378.2,385.9 378.7,386.4 379.2,385.4 379.7,384.3 380.2,384.2 380.7,383.9 381.2,383.8 381.7,383.9 382.2,383.5 382.7,383.2 383.2,382.1 383.7,381.9 384.2,382.3 384.7,383.1 385.2,382.4 385.7,381.2 386.2,380.8 386.7,381.1 387.2,379.8 387.7,381.3 388.2,380.9 388.7,380.0 389.2,379.1 389.7,379.1 390.2,379.9 390.7,378.9 391.2,378.5 391.7,379.1 392.2,378.0 392.7,377.4 393.2,376.3 393.7,375.9 394.2,375.4 394.7,375.5 395.2,375.8 395.7,375.2 396.2,374.5 396.7,374.0 397.2,375.1 397.7,375.1 398.2,374.4 398.7,373.7 399.2,373.4 399.7,373.0 400.2,372.3 400.7,372.3 401.2,372.4 401.7,371.9 402.2,371.2 402.7,371.2 403.2,371.1 403.7,370.2 404.2,370.3 404.7,369.6 405.2,369.5 405.7,368.0 406.2,367.6 406.7,366.0 407.2,367.0 407.7,367.4 408.2,368.1 408.7,368.2 409.2,367.1 409.7,364.7 410.2,365.4 410.7,365.5 411.2,366.0 411.7,365.8 412.2,365.1 412.7,364.0 413.2,362.9 413.7,362.4 414.2,362.7 414.7,362.2 415.2,361.3 415.7,362.1 416.2,362.7 416.7,362.2 417.2,360.9 417.7,360.7 418.2,360.8 418.7,360.3 419.2,359.5 419.7,359.7 420.2,360.6 420.7,359.9 421.2,358.6 421.7,358.6 422.2,359.3 422.7,359.7 423.2,358.4 423.7,358.0 424.2,357.3 424.7,356.9 425.2,356.6 425.7,356.6 426.2,356.9 426.7,356.1 427.2,356.3 427.7,355.8 428.2,355.5 428.7,355.4 429.2,354.5 429.7,354.1 430.2,355.1 430.7,354.4 431.2,353.7 431.7,353.2 432.2,353.3 432.7,352.7 433.2,353.2 433.7,352.0 434.2,350.0 434.7,349.8 435.2,349.8 435.7,350.2 436.2,350.9 436.7,350.5 437.2,351.0 437.7,348.5 438.2,347.5 438.7,347.0 439.2,344.6 439.7,348.0 440.2,346.4 440.7,345.6 441.2,346.5 441.7,344.8 442.2,343.8 442.7,342.0 443.2,343.8 443.7,344.0 444.2,343.5 444.7,343.0 445.2,342.7 445.7,342.6 446.2,341.3 446.7,342.3 447.2,342.1 447.7,342.8 448.2,340.9 448.7,339.8 449.2,339.2 449.7,339.3 450.2,338.8 450.7,338.6 451.2,338.8 451.7,338.2 452.2,338.9 452.7,338.1 453.2,337.3 453.7,337.7 454.2,338.2 454.7,337.9 455.2,336.9 455.7,337.4 456.2,336.8 456.7,337.4 457.2,338.2 457.7,338.0 458.2,336.9 458.7,336.9 459.2,335.0 459.7,333.9 460.2,335.0 460.7,335.4 461.2,334.0 461.7,333.3 462.2,334.3 462.7,334.5 463.2,333.7 463.7,334.5 464.2,334.3 464.7,334.1 465.2,333.5 465.7,334.4 466.2,334.0 466.7,333.7 467.2,334.0 467.7,332.8 468.2,332.9 468.7,333.4 469.2,332.9 469.7,332.6 470.2,332.3 470.7,330.8 471.2,332.2 471.7,332.7 472.2,331.7 472.7,331.8 473.2,332.2 473.7,332.2 474.2,331.6 474.7,332.3 475.2,332.9 475.7,331.7 476.2,331.1 476.7,330.4 477.2,329.2 477.7,329.9 478.2,331.2 478.7,330.0 479.2,329.9 479.7,330.0 480.2,331.5 480.7,328.1 481.2,330.4 481.7,331.0 482.2,331.8 482.7,331.5 483.2,331.3 483.7,330.3 484.2,331.0 484.7,330.6 485.2,330.6 485.7,330.6 486.2,330.7 486.7,330.7 487.2,331.0 487.7,331.2 488.2,332.4 488.7,331.9 489.2,331.8 489.7,330.7 490.2,330.9 490.7,331.1 491.2,331.2 491.7,331.8 492.2,332.1 492.7,332.1 493.2,332.4 493.7,331.8 494.2,331.2 494.7,332.0 495.2,332.7 495.7,332.3 496.2,332.4 496.7,332.9 497.2,333.4 497.7,332.7 498.2,332.6 498.7,333.6 499.2,333.2 499.7,333.9 500.2,333.2 500.7,333.4 501.2,334.6 501.7,334.8 502.2,334.0 502.7,334.2 503.2,335.2 503.7,336.0 504.2,336.8 504.7,337.8 505.2,336.9 505.7,337.7 506.2,337.3 506.7,337.2 507.2,336.5 507.7,336.8 508.2,336.9 508.7,337.3 509.2,339.4 509.7,338.9 510.2,339.4 510.7,339.4 511.2,340.5 511.7,339.2 512.2,340.0 512.7,340.3 513.2,341.4 513.7,342.4 514.2,341.5 514.7,341.2 515.2,342.3 515.7,343.3 516.2,343.8 516.7,343.4 517.2,344.1 517.7,344.7 518.2,345.3 518.7,345.8 519.2,345.8 519.7,345.2 520.2,345.5 520.7,347.3 521.2,347.8 521.7,347.8 522.2,347.5 522.7,348.0 523.2,348.5 523.7,349.2 524.2,350.1 524.7,351.3 525.2,350.5 525.7,351.2 526.2,352.2 526.7,351.9 527.2,351.9 527.7,352.0 528.2,352.5 528.7,353.9 529.2,354.8 529.7,355.7 530.2,355.9 530.7,356.3 531.2,356.1 531.7,355.9 532.2,356.9 532.7,357.5 533.2,358.3 533.7,358.1 534.2,358.6 534.7,358.9 535.2,359.9 535.7,360.8 536.2,361.1 536.7,361.9 537.2,362.0 537.7,362.8 538.2,362.5 538.7,363.8 539.2,363.7 539.7,363.7 540.2,364.6 540.7,366.5 541.2,368.6 541.7,367.7 542.2,366.3 542.7,366.1 543.2,367.2 543.7,367.4 544.2,368.2 544.7,368.0 545.2,368.9 545.7,369.7 546.2,370.8 546.7,372.0 547.2,371.3 547.7,373.2 548.2,372.8 548.7,373.8 549.2,374.7 549.7,375.0 550.2,376.0 550.7,374.9 551.2,376.0 551.7,377.9 552.2,377.8 552.7,376.8 553.2,378.2 553.7,379.7 554.2,379.4 554.7,380.2 555.2,380.4 555.7,380.4 556.2,381.4 556.7,382.0 557.2,382.5 557.7,382.5 558.2,382.9 558.7,383.4 559.2,384.2 559.7,386.1 560.2,386.8 560.7,387.0 561.2,387.0 561.7,387.0 562.2,389.6 562.7,388.9 563.2,388.5 563.7,389.4 564.2,389.7 564.7,390.6 565.2,392.6 565.7,393.3 566.2,392.2 566.7,391.5 567.2,392.4 567.7,393.9 568.2,394.5 568.7,394.6 569.2,395.6 569.7,397.0 570.2,396.3 570.7,395.8 571.2,396.0 571.7,396.9 572.2,397.6 572.7,398.7 573.2,398.7 573.7,398.7 574.2,399.1 574.7,400.7 575.2,400.4 575.7,401.4 576.2,401.6 576.7,402.5 577.2,403.1 577.7,403.5 578.2,403.9 578.7,404.1 579.2,405.0 579.7,405.1 580.2,406.0 580.7,406.1 581.2,408.1 581.7,408.0 582.2,408.1 582.7,407.8 583.2,408.7 583.7,410.3 584.2,409.6 584.7,410.0 585.2,410.4 585.7,411.3 586.2,412.1 586.7,412.0 587.2,411.8 587.7,412.3 588.2,413.6 588.7,414.3 589.2,413.8 589.7,413.7 590.2,414.3 590.7,414.8 591.2,416.2 591.7,415.9 592.2,416.8 592.7,417.7 593.2,418.0 593.7,417.4 594.2,418.8 594.7,418.7 595.2,418.8 595.7,418.7 596.2,418.6 596.7,419.8 597.2,420.6 597.7,420.9 598.2,421.6 598.7,421.9 599.2,421.9 599.7,423.3 600.2,423.6 600.7,423.5 601.2,423.9 601.7,424.8 602.2,425.5 602.7,424.5 603.2,424.3 603.7,425.9 604.2,427.3 604.7,428.5 605.2,428.0 605.7,428.6 606.2,429.0 606.7,429.3 607.2,429.2 607.7,429.6 608.2,431.0 608.7,430.9 609.2,430.5 609.7,430.7 610.2,431.8 610.7,433.3 611.2,434.5 611.7,435.0 612.2,434.6 612.7,434.5 613.2,435.1 613.7,434.9 614.2,435.7 614.7,436.0 615.2,436.3 615.7,436.9 616.2,437.1 616.7,438.0 617.2,438.7 617.7,439.0 618.2,439.1 618.7,439.3 619.2,440.1 619.7,441.4 620.2,442.1 620.7,441.8 621.2,442.4 621.7,443.6 622.2,443.7 622.7,444.5 623.2,445.2 623.7,445.4 624.2,445.9 624.7,446.2 625.2,447.2 625.7,447.7 626.2,448.6 626.7,448.5 627.2,448.4 627.7,450.0 628.2,451.3 628.7,450.6 629.2,451.0 629.7,451.6 630.2,452.8 630.7,452.3 631.2,454.0 631.7,454.0 632.2,454.1 632.7,454.4 633.2,455.6 633.7,456.1 634.2,457.4 634.7,457.9 635.2,458.0 635.7,458.4 636.2,458.5 636.7,458.8 637.2,459.8 637.7,460.9 638.2,461.1 638.7,461.5 639.2,461.4 639.7,462.7 640.2,463.0 640.7,463.9 641.2,464.4 641.7,465.6 642.2,465.9 642.7,466.2 643.2,466.8 643.7,467.5 644.2,467.5 644.7,469.7 645.2,470.2 645.7,470.5 646.2,470.1 646.7,470.8 647.2,471.4 647.7,472.0 648.2,472.5 648.7,472.5 649.2,473.7 649.7,474.6 650.2,475.6 650.7,475.8 651.2,475.3 651.7,476.3 652.2,477.5 652.7,478.5 653.2,478.4 653.7,478.5 654.2,479.4 654.7,479.8 655.2,480.7 655.7,480.5 656.2,480.8 656.7,481.6 657.2,482.7 657.7,483.8 658.2,484.7 658.7,484.0 659.2,484.8 659.7,485.1 660.2,486.1 660.7,487.4 661.2,488.1 661.7,488.4 662.2,488.8 662.7,489.2 663.2,489.8 663.7,490.7 664.2,490.7 664.7,491.0 665.2,492.1 665.7,493.0 666.2,492.7 666.7,493.3 667.2,493.4 667.7,494.3 668.2,495.4 668.7,495.5 669.2,496.1 669.7,497.1 670.2,498.0 670.7,498.0 671.2,498.8 671.7,499.4 672.2,499.9 672.7,499.3 673.2,500.1 673.7,501.4 674.2,502.3 674.7,502.8 675.2,505.8 675.7,504.1 676.2,505.1 676.7,505.7 677.2,506.1 677.7,506.8 678.2,506.9 678.7,506.8 679.2,506.8 679.7,507.8 680.2,507.9 680.7,509.3 681.2,510.0 681.7,510.6 682.2,511.4 682.7,511.6 683.2,512.1 683.7,512.6 684.2,513.7 684.7,514.1 685.2,513.9 685.7,513.8 686.2,514.6 686.7,515.4 687.2,515.2 687.7,515.6 688.2,516.1 688.7,516.0 689.2,516.6 689.7,516.5 690.2,516.7 690.7,517.1 691.2,517.5 691.7,518.1 692.2,518.3 692.7,518.3 693.1,518.1"/><polyline stroke="#008000" points="148.4,441.1 148.9,439.9 149.4,438.4 149.9,437.5 150.4,436.3 150.9,435.4 151.4,434.3 151.9,432.9 152.4,431.6 152.9,431.4 153.4,430.9 153.9,429.9 154.4,429.1 154.9,427.7 155.4,426.0 155.9,425.3 156.4,423.5 156.9,422.4 157.4,421.8 157.9,420.6 158.4,420.1 158.9,419.6 159.4,419.1 159.9,417.7 160.4,417.2 160.9,416.0 161.4,415.4 161.9,414.1 162.4,413.0 162.9,412.2 163.4,410.9 163.9,410.0 164.4,408.7 164.9,407.5 165.4,406.7 165.9,405.9 166.4,405.2 166.9,404.0 167.4,403.1 167.9,401.9 168.4,401.8 168.9,400.9 169.4,400.9 169.9,398.8 170.4,398.1 170.9,398.0 171.4,396.9 171.9,396.2 172.4,396.0 172.9,395.3 173.4,394.1 173.9,393.1 174.4,391.7 174.9,391.3 175.4,390.7 175.5,390.0 177.5,385.0 178.5,388.0 182.5,380.6 183.0,380.0 183.5,379.8 184.0,379.2 184.5,378.1 185.0,377.1 185.5,376.5 186.0,376.0 186.5,375.3 187.0,375.4 187.5,375.0 188.0,373.4 188.5,372.9 189.0,372.9 189.5,373.0 190.0,371.3 190.5,370.9 191.0,371.9 191.5,370.7 192.0,370.2 192.5,371.0 193.0,369.8 193.5,369.3 194.0,369.1 194.5,368.8 195.0,369.4 195.5,369.1 196.0,368.9 196.5,369.0 197.0,367.5 197.5,366.4 198.0,366.0 198.5,366.4 199.0,367.0 199.5,366.3 200.0,364.9 200.5,365.2 201.0,364.8 201.5,364.7 202.0,365.0 202.5,365.4 203.0,366.7 203.5,365.5 204.0,363.6 204.5,363.5 205.0,363.2 205.5,364.7 206.0,364.5 206.5,363.0 207.0,361.9 207.5,361.7 208.0,362.7 208.5,363.7 209.0,363.5 209.5,364.4 210.0,364.2 210.5,363.2 211.0,363.7 211.5,363.2 212.0,362.5 212.5,363.6 213.0,363.4 213.5,363.4 214.0,363.7 214.5,364.1 215.0,364.0 215.5,364.2 216.0,363.2 216.5,363.4 217.0,364.4 217.5,364.6 218.0,364.0 218.5,363.9 219.0,363.8 219.5,363.9 220.0,363.8 220.5,364.5 221.0,365.0 221.5,365.2 222.0,364.5 222.5,364.0 223.0,365.4 223.5,366.0 224.0,365.3 224.5,365.2 225.0,366.8 225.5,367.4 226.0,366.3 226.5,366.2 227.0,366.0 227.5,366.8 228.0,366.8 228.5,367.0 229.0,367.0 229.5,367.0 230.0,367.5 230.5,367.8 231.0,368.4 231.5,367.9 232.0,367.5 232.5,368.6 233.0,369.7 233.5,369.3 234.0,369.6 234.5,369.3 235.0,370.1 235.5,369.5 236.0,369.4 236.5,369.7 237.0,370.1 237.5,369.6 238.0,369.6 238.5,369.3 239.0,370.7 239.5,372.4 240.0,373.2 240.5,373.1 241.0,373.1 241.5,373.0 242.0,372.8 242.5,372.9 243.0,374.6 243.5,374.9 244.0,375.7 244.5,375.9 245.0,375.8 245.5,375.0 246.0,374.9 246.5,375.3 247.0,375.5 247.5,376.1 248.0,376.3 248.5,376.2 249.0,377.0 249.5,377.5 250.0,378.3 250.5,377.9 251.0,377.7 251.5,378.4 252.0,378.7 252.5,379.0 253.0,379.1 253.5,379.7 254.0,379.2 254.5,379.2 255.0,379.9 255.5,380.1 256.0,380.9 256.5,381.9 257.0,381.3 257.5,382.3 258.0,381.7 258.5,380.8 259.0,381.2 259.5,381.5 260.0,382.4 260.5,382.9 261.0,383.7 261.5,383.8 262.0,384.4 262.5,384.1 263.0,384.3 263.5,384.3 264.0,384.9 264.5,385.9 265.0,386.1 265.5,385.0 266.0,385.0 266.5,385.8 267.0,387.6 267.5,386.4 268.0,386.6 268.5,386.5 269.0,386.8 269.5,387.5 270.0,388.2 270.5,388.5 271.0,389.3 271.5,388.9 272.0,388.8 272.5,388.6 273.0,388.9 273.5,389.7 274.0,390.7 274.5,391.0 275.0,391.7 275.5,391.6 276.0,391.2 276.5,391.1 277.0,391.4 277.5,392.5 278.0,391.9 278.5,391.9 279.0,392.5 279.5,393.3 280.0,393.7 280.5,392.6 281.0,392.2 281.5,391.6 282.0,392.3 282.5,393.3 283.0,393.6 283.5,392.7 284.0,393.1 284.5,393.9 285.0,394.8 285.5,394.1 286.0,394.0 286.5,395.2 287.0,395.3 287.5,394.6 288.0,395.1 288.5,395.1 289.0,395.1 289.5,395.0 290.0,394.8 290.5,395.3 291.0,395.0 291.5,394.8 292.0,396.4 292.5,397.0 293.0,395.7 293.5,396.2 294.0,396.7 294.5,397.5 295.0,397.1 295.5,397.0 296.0,396.1 296.5,396.3 297.0,396.4 297.5,397.4 298.0,397.6 298.5,396.9 299.0,397.3 299.5,398.0 300.0,398.3 300.5,397.9 301.0,399.5 301.5,398.9 302.0,398.5 302.5,397.8 303.0,398.4 303.5,399.5 304.0,399.6 304.5,398.4 305.0,397.9 305.5,398.2 306.0,398.4 306.5,399.4 307.0,398.6 307.5,398.2 308.0,399.6 308.5,398.6 309.0,398.3 309.5,398.3 310.0,398.4 310.5,398.9 311.0,399.1 311.5,400.6 312.0,399.9 312.5,398.3 313.0,398.0 313.5,398.6 314.0,398.5 314.5,399.4 315.0,399.6 315.5,399.0 316.0,399.0 316.5,399.6 317.0,398.4 317.5,399.3 318.0,400.1 318.5,399.5 319.0,398.7 319.5,397.7 320.0,398.4 320.5,399.0 321.0,399.7 321.5,399.1 322.0,398.4 322.5,399.2 323.0,398.8 323.5,399.1 324.0,398.8 324.5,398.4 325.0,397.9 325.5,398.6 326.0,397.9 326.5,398.1 327.0,398.9 327.5,399.1 328.0,399.6 328.5,399.6 329.0,398.8 329.5,400.3 330.0,397.9 330.5,398.9 331.0,399.9 331.5,398.6 332.0,398.4 332.5,397.4 333.0,397.3 333.5,398.7 334.0,399.0 334.5,400.5 335.0,398.7 335.5,398.3 336.0,398.1 336.5,398.4 337.0,398.1 337.5,398.2 338.0,398.0 338.5,398.0 339.0,398.9 339.5,398.7 340.0,398.2 340.5,397.7 341.0,398.4 341.5,397.9 342.0,398.0 342.5,399.3 343.0,398.8 343.5,399.0 344.0,398.5 344.5,398.9 345.0,399.5 345.5,398.6 346.0,399.1 346.5,398.5 347.0,398.2 347.5,397.9 348.0,397.0 348.5,398.1 349.0,398.5 349.5,395.6 350.0,397.8 350.5,398.1 351.0,397.6 351.5,398.3 352.0,397.1 352.5,396.7 353.0,396.7 353.5,397.4 354.0,400.0 354.5,398.8 355.0,398.0 355.5,397.1 356.0,395.9 356.5,396.2 357.0,395.9 357.5,395.7 358.0,395.5 358.5,396.9 359.0,397.4 359.5,397.6 360.0,396.3 360.5,396.4 361.0,396.1 361.5,395.8 362.0,395.7 362.5,395.5 363.0,395.5 363.5,396.8 364.0,397.2 364.5,397.2 365.0,395.8 365.5,395.0 366.0,394.7 366.5,394.4 367.0,394.1 367.5,395.1 368.0,396.1 368.5,396.7 369.0,396.5 369.5,395.3 370.0,395.4 370.5,395.3 371.0,396.1 371.5,395.3 372.0,395.5 372.5,395.4 373.0,395.6 373.5,395.8 374.0,395.4 374.5,395.0 375.0,393.8 375.5,392.8 376.0,393.9 376.5,393.6 377.0,394.1 377.5,394.7 378.0,394.2 378.5,394.3 379.0,392.2 379.5,392.2 380.0,393.3 380.5,393.3 381.0,393.2 381.5,392.6 382.0,392.5 382.5,392.9 383.0,392.7 383.5,393.1 384.0,392.7 384.5,392.5 385.0,393.4 385.5,393.4 386.0,393.9 386.5,392.5 387.0,392.9 387.5,392.2 388.0,391.0 388.5,390.7 389.0,390.7 389.5,391.3 390.0,391.1 390.5,391.2 391.0,390.9 391.5,389.8 392.0,390.8 392.5,391.0 393.0,389.8 393.5,389.1 394.0,390.8 394.5,391.0 395.0,390.9 395.5,389.9 396.0,389.7 396.5,389.2 397.0,389.6 397.5,388.8 398.0,389.2 398.5,389.7 399.0,389.3 399.5,388.9 400.0,388.5 400.5,387.7 401.0,388.3 401.5,388.6 402.0,388.6 402.5,388.5 403.0,389.5 403.5,389.4 404.0,389.1 404.5,388.5 405.0,389.0 405.5,389.1 406.0,388.2 406.5,388.4 407.0,388.3 407.5,387.8 408.0,387.3 408.5,386.9 409.0,387.5 409.5,387.9 410.0,387.8 410.5,387.8 411.0,387.9 411.5,386.0 412.0,386.3 412.5,385.7 413.0,386.3 413.5,385.2 414.0,385.7 414.5,385.6 415.0,385.8 415.5,385.6 416.0,384.6 416.5,384.6 417.0,383.9 417.5,384.7 418.0,385.6 418.5,384.4 419.0,384.7 419.5,384.9 420.0,384.3 420.5,383.7 421.0,384.3 421.5,383.9 422.0,383.4 422.5,383.8 423.0,383.4 423.5,382.6 424.0,382.4 424.5,382.5 425.0,383.0 425.5,383.2 426.0,383.0 426.5,382.8 427.0,382.1 427.5,381.8 428.0,381.5 428.5,381.6 429.0,380.8 429.5,380.4 430.0,379.9 430.5,379.6 431.0,380.0 431.5,380.6 432.0,380.0 432.5,380.2 433.0,380.1 433.5,380.0 434.0,378.9 434.5,377.1 435.0,377.0 435.5,376.6 436.0,377.3 436.5,376.5 437.0,376.5 437.5,376.8 438.0,376.9 438.5,376.7 439.0,376.9 439.5,375.7 440.0,375.5 440.5,375.4 441.0,373.0 441.5,373.7 442.0,373.6 442.5,373.4 443.0,373.4 443.5,373.3 444.0,372.3 444.5,371.1 445.0,371.5 445.5,371.1 446.0,372.2 446.5,371.6 447.0,371.1 447.5,371.0 448.0,370.4 448.5,369.3 449.0,369.6 449.5,368.8 450.0,369.2 450.5,368.3 451.0,368.1 451.5,369.0 452.0,369.8 452.5,369.0 453.0,368.3 453.5,368.2 454.0,368.1 454.5,367.6 455.0,366.4 455.5,367.0 456.0,366.5 456.5,364.6 457.0,364.0 457.5,364.0 458.0,362.7 458.5,362.4 459.0,362.9 459.5,362.7 460.0,363.8 460.5,363.5 461.0,363.9 461.5,363.2 462.0,362.0 462.5,361.0 463.0,361.7 463.5,362.0 464.0,361.5 464.5,360.3 465.0,360.8 465.5,360.6 466.0,359.8 466.5,360.0 467.0,360.0 467.5,359.4 468.0,359.1 468.5,359.6 469.0,359.8 469.5,359.4 470.0,359.2 470.5,357.6 471.0,357.4 471.5,356.5 472.0,357.0 472.5,357.5 473.0,357.3 473.5,356.1 474.0,356.4 474.5,355.6 475.0,355.9 475.5,355.7 476.0,354.6 476.5,353.4 477.0,354.2 477.5,355.1 478.0,356.0 478.5,355.2 479.0,353.8 479.5,353.6 480.0,353.5 480.5,353.2 481.0,354.6 481.5,354.8 482.0,354.8 482.5,353.9 483.0,353.4 483.5,353.2 484.0,353.4 484.5,352.9 485.0,353.2 485.5,353.0 486.0,352.6 486.5,352.5 487.0,352.2 487.5,351.5 488.0,350.6 488.5,350.8 489.0,351.7 489.5,351.2 490.0,351.3 490.5,350.5 491.0,352.2 491.5,350.6 492.0,350.3 492.5,350.2 493.0,349.0 493.5,348.4 494.0,346.1 494.5,348.8 495.0,348.8 495.5,346.8 496.0,349.8 496.5,348.7 497.0,348.6 497.5,348.1 498.0,347.9 498.5,348.2 499.0,348.3 499.5,348.5 500.0,348.9 500.5,348.8 501.0,350.0 501.5,347.9 502.0,346.9 502.5,345.1 503.0,345.1 503.5,345.8 504.0,345.9 504.5,345.3 505.0,346.1 505.5,346.3 506.0,346.9 506.5,345.7 507.0,345.4 507.5,344.7 508.0,344.6 508.5,345.0 509.0,345.2 509.5,344.4 510.0,344.1 510.5,343.9 511.0,344.9 511.5,343.8 512.0,344.0 512.5,344.0 513.0,343.8 513.5,343.6 514.0,343.3 514.5,342.9 515.0,342.1 515.5,343.1 516.0,343.1 516.5,343.8 517.0,343.2 517.5,343.4 518.0,342.5 518.5,342.7 519.0,342.0 519.5,342.1 520.0,342.1 520.5,341.5 521.0,342.0 521.5,342.6 522.0,341.7 522.5,342.6 523.0,342.8 523.5,342.5 524.0,341.6 524.5,341.6 525.0,342.4 525.5,342.1 526.0,341.7 526.5,341.3 527.0,342.0 527.5,341.4 528.0,342.3 528.5,342.2 529.0,341.9 529.5,342.5 530.0,341.9 530.5,339.2 531.0,341.6 531.5,340.9 532.0,341.6 532.5,341.2 533.0,341.0 533.5,341.1 534.0,341.2 534.5,341.5 535.0,340.6 535.5,341.3 536.0,341.7 536.5,341.6 537.0,341.6 537.5,341.1 538.0,340.6 538.5,340.4 539.0,342.5 539.5,341.9 540.0,341.0 540.5,341.6 541.0,342.0 541.5,340.9 542.0,340.6 542.5,341.4 543.0,340.9 543.5,341.0 544.0,341.2 544.5,340.2 545.0,340.1 545.5,340.4 546.0,340.4 546.5,340.8 547.0,341.2 547.5,341.1 548.0,341.0 548.5,341.3 549.0,341.2 549.5,340.7 550.0,339.7 550.5,339.8 551.0,339.7 551.5,340.3 552.0,340.1 552.5,341.9 553.0,341.7 553.5,340.7 554.0,340.7 554.5,340.4 555.0,340.8 555.5,341.0 556.0,340.6 556.5,341.1 557.0,340.3 557.5,340.3 558.0,341.4 558.5,341.8 559.0,341.6 559.5,341.3 560.0,340.7 560.5,341.6 561.0,342.4 561.5,342.3 562.0,341.5 562.5,341.7 563.0,340.7 563.5,339.9 564.0,341.2 564.5,341.1 565.0,342.7 565.5,341.4 566.0,341.0 566.5,340.1 567.0,340.5 567.5,341.4 568.0,342.0 568.5,342.0 569.0,341.5 569.5,341.2 570.0,341.5 570.5,342.2 571.0,342.0 571.5,343.1 572.0,343.6 572.5,343.3 573.0,343.1 573.5,343.4 574.0,343.9 574.5,343.1 575.0,343.3 575.5,343.3 576.0,343.5 576.5,342.6 577.0,343.7 577.5,343.3 578.0,344.4 578.5,343.4 579.0,343.0 579.5,343.3 580.0,340.4 580.5,343.7 581.0,343.3 581.5,343.4 582.0,343.9 582.5,344.6 583.0,344.5 583.5,344.9 584.0,345.8 584.5,345.8 585.0,346.7 585.5,346.3 586.0,346.7 586.5,346.2 587.0,346.6 587.5,345.7 588.0,345.5 588.5,346.7 589.0,347.9 589.5,347.7 590.0,348.0 590.5,347.7 591.0,348.5 591.5,349.0 592.0,348.8 592.5,348.2 593.0,349.0 593.5,350.0 594.0,350.6 594.5,351.3 595.0,350.8 595.5,349.6 596.0,349.6 596.5,350.8 597.0,351.4 597.5,352.2 598.0,352.8 598.5,353.1 599.0,353.3 599.5,353.2 600.0,353.7 600.5,354.4 601.0,355.4 601.5,355.7 602.0,356.1 602.5,357.7 603.0,357.4 603.5,357.6 604.0,356.9 604.5,357.7 605.0,359.1 605.5,359.7 606.0,360.0 606.5,361.3 607.0,361.6 607.5,361.3 608.0,360.6 608.5,360.5 609.0,362.1 609.5,363.5 610.0,363.0 610.5,363.3 611.0,363.1 611.5,363.9 612.0,365.2 612.5,366.0 613.0,365.6 613.5,366.7 614.0,368.1 614.5,367.7 615.0,369.0 615.5,370.2 616.0,370.5 616.5,370.9 617.0,371.4 617.5,371.6 618.0,372.7 618.5,373.5 619.0,374.1 619.5,373.8 620.0,374.5 620.5,375.8 621.0,376.8 621.5,377.7 622.0,378.8 622.5,378.5 623.0,379.0 623.5,379.7 624.0,380.7 624.5,381.2 625.0,382.2 625.5,383.5 626.0,383.9 626.5,384.3 627.0,385.4 627.5,384.9 628.0,385.5 628.5,387.3 629.0,388.3 629.5,389.1 630.0,390.1 630.5,390.2 631.0,391.0 631.5,392.0 632.0,392.8 632.5,394.4 633.0,394.9 633.5,395.7 634.0,396.1 634.5,397.4 635.0,396.4 635.5,398.5 636.0,398.7 636.5,400.4 637.0,401.5 637.5,401.3 638.0,401.6 638.5,402.5 639.0,404.0 639.5,405.3 640.0,406.2 640.5,407.1 641.0,408.3 641.5,409.3 642.0,410.6 642.5,411.3 643.0,412.0 643.5,412.7 644.0,413.5 644.5,414.0 645.0,415.8 645.5,416.9 646.0,416.8 646.5,418.0 647.0,418.7 647.5,419.2 648.0,419.9 648.5,421.2 649.0,423.0 649.5,423.7 650.0,424.2 650.5,425.1 651.0,425.4 651.5,426.7 652.0,427.7 652.5,428.3 653.0,429.2 653.5,430.1 654.0,430.5 654.5,430.9 655.0,432.8 655.5,433.7 656.0,434.4 656.5,435.1 657.0,436.2 657.5,437.2 658.0,438.3 658.5,439.6 659.0,440.5 659.5,441.3 660.0,443.1 660.5,443.8 661.0,444.9 661.5,445.7 662.0,447.0 662.5,449.0 663.0,449.9 663.5,450.6 664.0,451.1 664.5,451.4 665.0,453.1 665.5,453.8 666.0,455.1 666.5,456.1 667.0,457.1 667.5,458.0 668.0,458.6 668.5,460.1 669.0,462.5 669.5,463.7 670.0,463.6 670.5,464.2 671.0,465.0 671.5,466.5 672.0,467.4 672.5,467.7 673.0,468.4 673.5,469.2 674.0,470.0 674.5,470.8 675.0,471.5 675.5,472.5 676.0,474.3 676.5,474.6 677.0,475.2 677.5,475.9 678.0,476.5 678.5,477.0 679.0,477.7 679.5,479.1 680.0,479.7 680.5,480.8 681.0,481.9 681.5,482.1 682.0,482.1 682.5,482.6 683.0,483.6 683.5,484.5 684.0,485.7 684.5,486.4 685.0,487.2 685.5,487.4 686.0,488.0 686.5,488.1 687.0,489.2 687.5,489.2 688.0,490.5 688.5,491.0 689.0,491.5 689.5,491.5 690.0,492.9 690.5,493.0 691.0,493.8 691.5,494.2 692.0,495.0 692.5,495.4"/></g><path d="M100.5 278.0V272.4M100.5 61.0V66.6M178.5 278.0V272.4M178.5 61.0V66.6M255.5 278.0V272.4M255.5 61.0V66.6M333.5 278.0V272.4M333.5 61.0V66.6M410.5 278.0V272.4M410.5 61.0V66.6M488.5 278.0V272.4M488.5 61.0V66.6M565.5 278.0V272.4M565.5 61.0V66.6M643.5 278.0V272.4M643.5 61.0V66.6M720.5 278.0V272.4M720.5 61.0V66.6M101.0 278.5H106.6M720.0 278.5H714.4M101.0 250.5H106.6M720.0 250.5H714.4M101.0 223.5H106.6M720.0 223.5H714.4M101.0 196.5H106.6M720.0 196.5H714.4M101.0 169.5H106.6M720.0 169.5H714.4M101.0 141.5H106.6M720.0 141.5H714.4M101.0 114.5H106.6M720.0 114.5H714.4M101.0 87.5H106.6M720.0 87.5H714.4M101.0 60.5H106.6M720.0 60.5H714.4" stroke="#000" stroke-opacity="0.78" stroke-width="1" fill="none"/><path d="M100.5 540.0V534.4M100.5 323.0V328.6M178.5 540.0V534.4M178.5 323.0V328.6M255.5 540.0V534.4M255.5 323.0V328.6M333.5 540.0V534.4M333.5 323.0V328.6M410.5 540.0V534.4M410.5 323.0V328.6M488.5 540.0V534.4M488.5 323.0V328.6M565.5 540.0V534.4M565.5 323.0V328.6M643.5 540.0V534.4M643.5 323.0V328.6M720.5 540.0V534.4M720.5 323.0V328.6M101.0 540.5H106.6M720.0 540.5H714.4M101.0 485.5H106.6M720.0 485.5H714.4M101.0 430.5H106.6M720.0 430.5H714.4M101.0 376.5H106.6M720.0 376.5H714.4M101.0 322.5H106.6M720.0 322.5H714.4" stroke="#000" stroke-opacity="0.78" stroke-width="1" fill="none"/><rect x="100.5" y="60.5" width="620" height="218" fill="none" stroke="#000" stroke-width="1"/><rect x="100.5" y="322.5" width="620" height="218" fill="none" stroke="#000" stroke-width="1"/><g font-family='"Liberation Sans", sans-serif' fill="#000"><text x="100.00" y="295.00" text-anchor="middle" font-size="16.67" textLength="40.6" lengthAdjust="spacingAndGlyphs">1414</text><text x="177.50" y="295.00" text-anchor="middle" font-size="16.67" textLength="40.6" lengthAdjust="spacingAndGlyphs">1416</text><text x="255.00" y="295.00" text-anchor="middle" font-size="16.67" textLength="40.6" lengthAdjust="spacingAndGlyphs">1418</text><text x="332.50" y="295.00" text-anchor="middle" font-size="16.67" textLength="40.6" lengthAdjust="spacingAndGlyphs">1420</text><text x="410.00" y="295.00" text-anchor="middle" font-size="16.67" textLength="40.6" lengthAdjust="spacingAndGlyphs">1422</text><text x="487.50" y="295.00" text-anchor="middle" font-size="16.67" textLength="40.6" lengthAdjust="spacingAndGlyphs">1424</text><text x="565.00" y="295.00" text-anchor="middle" font-size="16.67" textLength="40.6" lengthAdjust="spacingAndGlyphs">1426</text><text x="642.50" y="295.00" text-anchor="middle" font-size="16.67" textLength="40.6" lengthAdjust="spacingAndGlyphs">1428</text><text x="720.00" y="295.00" text-anchor="middle" font-size="16.67" textLength="40.6" lengthAdjust="spacingAndGlyphs">1430</text><text x="93.50" y="284.00" text-anchor="end" font-size="16.67" textLength="30.0" lengthAdjust="spacingAndGlyphs">100</text><text x="93.50" y="256.00" text-anchor="end" font-size="16.67" textLength="30.0" lengthAdjust="spacingAndGlyphs">150</text><text x="93.50" y="229.00" text-anchor="end" font-size="16.67" textLength="30.0" lengthAdjust="spacingAndGlyphs">200</text><text x="93.50" y="202.00" text-anchor="end" font-size="16.67" textLength="30.0" lengthAdjust="spacingAndGlyphs">250</text><text x="93.50" y="175.00" text-anchor="end" font-size="16.67" textLength="30.0" lengthAdjust="spacingAndGlyphs">300</text><text x="93.50" y="147.00" text-anchor="end" font-size="16.67" textLength="30.0" lengthAdjust="spacingAndGlyphs">350</text><text x="93.50" y="120.00" text-anchor="end" font-size="16.67" textLength="30.0" lengthAdjust="spacingAndGlyphs">400</text><text x="93.50" y="93.00" text-anchor="end" font-size="16.67" textLength="30.0" lengthAdjust="spacingAndGlyphs">450</text><text x="93.50" y="66.00" text-anchor="end" font-size="16.67" textLength="30.0" lengthAdjust="spacingAndGlyphs">500</text><text x="100.00" y="556.80" text-anchor="middle" font-size="16.67" textLength="40.6" lengthAdjust="spacingAndGlyphs">1398</text><text x="177.50" y="556.80" text-anchor="middle" font-size="16.67" textLength="40.6" lengthAdjust="spacingAndGlyphs">1400</text><text x="255.00" y="556.80" text-anchor="middle" font-size="16.67" textLength="40.6" lengthAdjust="spacingAndGlyphs">1402</text><text x="332.50" y="556.80" text-anchor="middle" font-size="16.67" textLength="40.6" lengthAdjust="spacingAndGlyphs">1404</text><text x="410.00" y="556.80" text-anchor="middle" font-size="16.67" textLength="40.6" lengthAdjust="spacingAndGlyphs">1406</text><text x="487.50" y="556.80" text-anchor="middle" font-size="16.67" textLength="40.6" lengthAdjust="spacingAndGlyphs">1408</text><text x="565.00" y="556.80" text-anchor="middle" font-size="16.67" textLength="40.6" lengthAdjust="spacingAndGlyphs">1410</text><text x="642.50" y="556.80" text-anchor="middle" font-size="16.67" textLength="40.6" lengthAdjust="spacingAndGlyphs">1412</text><text x="720.00" y="556.80" text-anchor="middle" font-size="16.67" textLength="40.6" lengthAdjust="spacingAndGlyphs">1414</text><text x="93.50" y="546.00" text-anchor="end" font-size="16.67" textLength="30.0" lengthAdjust="spacingAndGlyphs">100</text><text x="93.50" y="491.00" text-anchor="end" font-size="16.67" textLength="30.0" lengthAdjust="spacingAndGlyphs">150</text><text x="93.50" y="436.00" text-anchor="end" font-size="16.67" textLength="30.0" lengthAdjust="spacingAndGlyphs">200</text><text x="93.50" y="382.00" text-anchor="end" font-size="16.67" textLength="30.0" lengthAdjust="spacingAndGlyphs">250</text><text x="93.50" y="328.00" text-anchor="end" font-size="16.67" textLength="30.0" lengthAdjust="spacingAndGlyphs">300</text><text x="410.00" y="53.20" text-anchor="middle" font-size="20.00" textLength="469.0" lengthAdjust="spacingAndGlyphs">gl0, ID:140877 Calibrated On-source spectrum</text><text x="409.60" y="576.20" text-anchor="middle" font-size="16.67" textLength="140.5" lengthAdjust="spacingAndGlyphs">Frequency (MHz)</text><text x="0" y="0" text-anchor="middle" font-size="16.67" textLength="125.5" lengthAdjust="spacingAndGlyphs" transform="translate(56,168.6) rotate(-90)">Power in Kelvin</text></g><rect x="587.5" y="66.5" width="127.0" height="34.0" fill="#fff" stroke="#000" stroke-width="1"/><line x1="595.0" y1="74.5" x2="612.0" y2="74.5" stroke="#ff0000" stroke-width="1.3"/><text x="622.5" y="78.1" font-size="11.1" font-family='"Liberation Sans", sans-serif' textLength="87.5" lengthAdjust="spacingAndGlyphs">XX1 Tsys277.47</text><line x1="595.0" y1="90.5" x2="612.0" y2="90.5" stroke="#008000" stroke-width="1.3"/><text x="622.2" y="93.1" font-size="11.1" font-family='"Liberation Sans", sans-serif' textLength="86.0" lengthAdjust="spacingAndGlyphs">YY1 Tsys242.69</text><rect x="106.5" y="500.5" width="127.0" height="34.0" fill="#fff" stroke="#000" stroke-width="1"/><line x1="113.0" y1="509.5" x2="130.0" y2="509.5" stroke="#ff0000" stroke-width="1.3"/><text x="140.6" y="512.1" font-size="11.1" font-family='"Liberation Sans", sans-serif' textLength="88.0" lengthAdjust="spacingAndGlyphs">XX2 Tsys225.99</text><line x1="113.0" y1="524.5" x2="130.0" y2="524.5" stroke="#008000" stroke-width="1.3"/><text x="140.5" y="528.1" font-size="11.1" font-family='"Liberation Sans", sans-serif' textLength="86.5" lengthAdjust="spacingAndGlyphs">YY2 Tsys244.10</text></svg></body></html>
